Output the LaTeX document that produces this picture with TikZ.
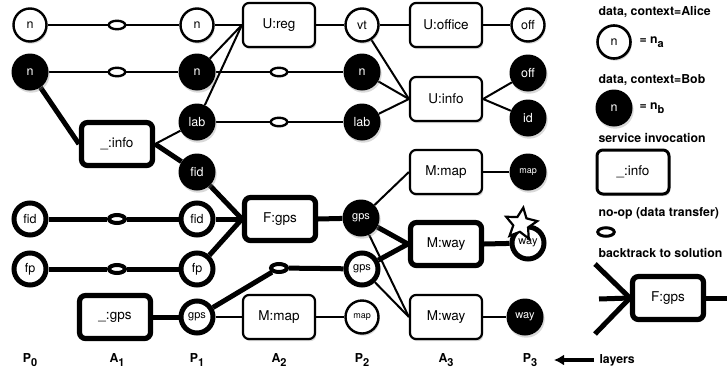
\documentclass[tikz,border=0pt]{standalone}
\usepackage{fontspec}
\setmainfont{TeX Gyre Heros}
\usetikzlibrary{shapes.geometric,shadows,arrows.meta}
\pgfdeclarelayer{bg}
\pgfsetlayers{bg,main}
\begin{document}
\begin{tikzpicture}[x=1pt,y=-1pt,
 shd/.style={drop shadow={shadow xshift=1.2pt,shadow yshift=-2.2pt,opacity=0.3}},
 wn/.style={circle,draw,fill=white,line width=2.4pt,minimum size=33pt,inner sep=0pt,font=\fontsize{12.5}{12.5}\selectfont,shd},
 wnt/.style={wn,line width=5pt,minimum size=32pt},
 bn/.style={circle,fill=black,text=white,minimum size=37pt,inner sep=0pt,font=\fontsize{12.5}{12.5}\selectfont,shd},
 svc/.style={rectangle,rounded corners=6pt,draw,fill=white,line width=2.2pt,minimum width=72pt,minimum height=44pt,font=\fontsize{13.5}{13.5}\selectfont,shd},
 svct/.style={svc,line width=5.2pt,minimum width=71pt,minimum height=43pt},
 noop/.style={ellipse,draw,fill=white,line width=2.4pt,minimum width=16.5pt,minimum height=8.5pt,inner sep=0pt},
 noopt/.style={noop,line width=4pt,minimum width=16pt,minimum height=8pt},
 thin/.style={line width=2pt},
 thk/.style={line width=5pt},
 lbl/.style={font=\bfseries\fontsize{12.3}{12.3}\selectfont},
 sm/.style={font=\fontsize{11}{11}\selectfont},
 xs/.style={font=\fontsize{9}{9}\selectfont},
 ]
\useasboundingbox (0,0) rectangle (727,372);
% row 1
\node[wn] (a0n) at (30,25) {n};
\node[noop] (o11) at (117,25) {};
\node[wn] (a1n) at (197,25) {n};
\node[svc] (ureg) at (279,25) {U:reg};
\node[wn] (vt) at (362,25) {vt};
\node[svc] (uoffice) at (446,25) {U:office};
\node[wn] (offa) at (528,25) {off};
% row 2
\node[bn] (b0n) at (30,72) {n};
\node[noop] (o12) at (117,72) {};
\node[bn] (b1n) at (197,72) {n};
\node[noop] (o22) at (279,72) {};
\node[bn] (b2n) at (362,72) {n};
\node[svc] (uinfo) at (446,99) {U:info};
\node[bn] (offb) at (528,73) {off};
\node[bn] (idb) at (528,118) {id};
% row 3
\node[svct] (info) at (117,144) {\_:info};
\node[bn] (lab1) at (197,122) {lab};
\node[noop] (o23) at (279,122) {};
\node[bn] (lab2) at (362,122) {lab};
\node[bn] (fid1b) at (197,172) {fid};
\node[svc] (mmap1) at (446,172) {M:map};
\node[bn,xs] (mapb) at (528,172) {map};
% fid row
\node[wnt] (fid0) at (30,219) {fid};
\node[noopt] (o14) at (117,219) {};
\node[wnt] (fid1) at (197,219) {fid};
\node[svct] (fgps) at (280,219) {F:gps};
\node[bn,sm] (gps2b) at (361,218) {gps};
\node[svct] (mway) at (446,244) {M:way};
\node[wnt,sm] (wayw) at (528,243) {way};
\node[star,star points=5,star point ratio=2.1,draw,fill=white,line width=2.2pt,minimum size=33pt,inner sep=0pt,rotate=-8] (star) at (521,224) {};
% fp row
\node[wnt] (fp0) at (30,269) {fp};
\node[noopt] (o15) at (117,269) {};
\node[wnt] (fp1) at (197,269) {fp};
\node[noopt] (o25) at (279,268) {};
\node[wnt,sm] (gps2w) at (362,269) {gps};
% gps row
\node[svct] (gpsbox) at (115,317) {\_:gps};
\node[wnt,sm] (gps1) at (197,317) {gps};
\node[svc] (mmap2) at (279,317) {M:map};
\node[wn,xs] (map2) at (362,317) {map};
\node[svc] (mway2) at (446,317) {M:way};
\node[bn,sm] (wayb) at (525,317) {way};
% layer labels
\node[lbl] (lP0) at (30,360) {P\raisebox{-3.5pt}{\fontsize{11}{11}\selectfont 0}};
\node[lbl] (lA1) at (117,360) {A\raisebox{-3.5pt}{\fontsize{11}{11}\selectfont 1}};
\node[lbl] (lP1) at (197,360) {P\raisebox{-3.5pt}{\fontsize{11}{11}\selectfont 1}};
\node[lbl] (lA2) at (279,360) {A\raisebox{-3.5pt}{\fontsize{11}{11}\selectfont 2}};
\node[lbl] (lP2) at (362,360) {P\raisebox{-3.5pt}{\fontsize{11}{11}\selectfont 2}};
\node[lbl] (lA3) at (446,360) {A\raisebox{-3.5pt}{\fontsize{11}{11}\selectfont 3}};
\node[lbl] (lP3) at (530,360) {P\raisebox{-3.5pt}{\fontsize{11}{11}\selectfont 3}};
\node[lbl,anchor=west] (layers) at (596,360) {layers};
\coordinate (arrS) at (594,360);
\coordinate (arrE) at (554,360);
\draw[line width=3.2pt,-{Latex[length=10pt,width=11pt]}] (arrS) -- (arrE);
% legend
\node[lbl,anchor=west] (t1) at (595,12) {data, context=Alice};
\node[wn,line width=2.6pt] (leg1) at (614,42) {n};
\node[lbl,anchor=west] (eq1) at (636,42) {= n\raisebox{-3.5pt}{\fontsize{11}{11}\selectfont a}};
\node[lbl,anchor=west] (t2) at (595,80) {data, context=Bob};
\node[bn] (leg2) at (614,108) {n};
\node[lbl,anchor=west] (eq2) at (636,108) {= n\raisebox{-3.5pt}{\fontsize{11}{11}\selectfont b}};
\node[lbl,anchor=west] (t3) at (595,138) {service invocation};
\node[svc,line width=3pt] (leg3) at (633,172) {\_:info};
\node[lbl,anchor=west] (t4) at (595,213) {no-op (data transfer)};
\node[noop,line width=3pt] (leg4) at (606,232) {};
\node[lbl,anchor=west] (t5) at (595,253) {backtrack to solution};
\node[svct] (leg5) at (668,298) {F:gps};
\coordinate (bt1) at (595,264);
\coordinate (bt2) at (599,299);
\coordinate (bt3) at (595,334);
\coordinate (bt4) at (730,298);
\begin{pgfonlayer}{bg}
% thin edges
\draw[thin] (a0n) -- (o11);
\draw[thin] (o11) -- (a1n);
\draw[thin] (a1n) -- (ureg.west);
\draw[thin] (b0n) -- (o12);
\draw[thin] (o12) -- (b1n);
\draw[thin] (b1n) -- (ureg.west);
\draw[thin] (lab1) -- (ureg.west);
\draw[thin] (b1n) -- (o22);
\draw[thin] (o22) -- (b2n);
\draw[thin] (ureg.east) -- (vt);
\draw[thin] (vt) -- (uoffice.west);
\draw[thin] (uoffice.east) -- (offa);
\draw[thin] (vt) -- (uinfo.west);
\draw[thin] (b2n) -- (uinfo.west);
\draw[thin] (lab2) -- (uinfo.west);
\draw[thin] (uinfo.east) -- (offb);
\draw[thin] (uinfo.east) -- (idb);
\draw[thin] (info.east) -- (lab1);
\draw[thin] (lab1) -- (o23);
\draw[thin] (o23) -- (lab2);
\draw[thin] (gps2b) -- (mmap1.west);
\draw[thin] (mmap1.east) -- (mapb);
\draw[thin] (gps1) -- (mmap2.west);
\draw[thin] (mmap2.east) -- (map2);
\draw[thin] (gps2b) -- (mway2.west);
\draw[thin] (gps2w) -- (mway2.west);
\draw[thin] (mway2.east) -- (wayb);
% thick edges
\draw[thk] (b0n) -- (info.west);
\draw[thk] (info.east) -- (fid1b);
\draw[thk] (fid1b) -- (fgps.west);
\draw[thk] (fid0) -- (o14);
\draw[thk] (o14) -- (fid1);
\draw[thk] (fid1) -- (fgps.west);
\draw[thk] (fp0) -- (o15);
\draw[thk] (o15) -- (fp1);
\draw[thk] (fp1) -- (fgps.west);
\draw[thk] (fgps.east) -- (gps2b);
\draw[thk] (gpsbox.east) -- (gps1);
\draw[thk] (gps1) -- (o25);
\draw[thk] (o25) -- (gps2w);
\draw[thk] (gps2b) -- (mway.west);
\draw[thk] (gps2w) -- (mway.west);
\draw[thk] (mway.east) -- (wayw);
% legend backtrack
\draw[thk] (bt1) -- (leg5.west);
\draw[thk] (bt2) -- (leg5.west);
\draw[thk] (bt3) -- (leg5.west);
\draw[thk] (leg5.east) -- (bt4);
\end{pgfonlayer}
\end{tikzpicture}
\end{document}
